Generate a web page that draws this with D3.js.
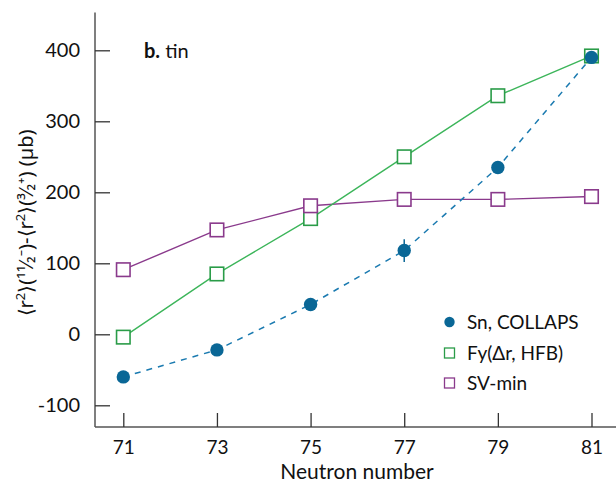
<!DOCTYPE html>
<html>
<head>
<meta charset="utf-8">
<script src="https://cdn.jsdelivr.net/npm/d3@7"></script>
<style>
  html, body { margin: 0; padding: 0; background: #fff; }
  svg { display: block; font-family: Lato, "Noto Sans", "DejaVu Sans", sans-serif; }
</style>
</head>
<body>
<svg id="chart" width="616" height="485"></svg>
<script>
// Neutron numbers of the odd tin isotopes
const neutrons = [71, 73, 75, 77, 79, 81];
// Isomer shift difference <r2>(11/2-) - <r2>(3/2+) in microbarn
const collaps = [-60, -22, 42, 118, 235, 390];
const collapsErr = [0, 0, 0, 16, 0, 0];
const fyHfb = [-4, 85, 163, 250, 336, 392];
const svMin = [91, 147, 181, 190, 190, 194];
const yTicks = [-100, 0, 100, 200, 300, 400];
const xTicks = [71, 73, 75, 77, 79, 81];
const legendLabels = ["Sn, COLLAPS", "Fy(\u0394r, HFB)", "SV-min"];

const colBlue = "#0a6796";
const colGreen = "#3cb55a";
const colGreenDark = "#2a9c48";
const colPurple = "#8a3a8c";
const axisCol = "#555";
const textFont = "Lato, 'Noto Sans', sans-serif";

const svg = d3.select("#chart");

const x = d3.scaleLinear().domain([71, 81]).range([123.3, 591.5]);
const y = d3.scaleLinear().domain([0, 400]).range([334.3, 50.3]);

const axisX0 = 95, axisY0 = 427;

// axes lines
svg.append("line").attr("x1", axisX0).attr("x2", axisX0).attr("y1", 12.5).attr("y2", axisY0)
  .attr("stroke", axisCol).attr("stroke-width", 1.5);
svg.append("line").attr("x1", axisX0).attr("x2", 616).attr("y1", axisY0).attr("y2", axisY0)
  .attr("stroke", axisCol).attr("stroke-width", 1.5);

// y axis with inward ticks
const gy = svg.append("g").attr("transform", `translate(${axisX0},0)`)
  .call(d3.axisLeft(y).tickValues(yTicks).tickSizeInner(-15).tickSizeOuter(0).tickPadding(15)
    .tickFormat(d => d < 0 ? "-" + Math.abs(d) : String(d)));
gy.select(".domain").remove();
gy.selectAll(".tick line").attr("stroke", "#333").attr("stroke-width", 1.3);
gy.selectAll(".tick text").attr("fill", "#111").style("font-size", "20px")
  .style("font-family", textFont);

// x axis with inward ticks
const gx = svg.append("g").attr("transform", `translate(0,${axisY0})`)
  .call(d3.axisBottom(x).tickValues(xTicks).tickSizeInner(-14).tickSizeOuter(0).tickPadding(13.5)
    .tickFormat(d3.format("d")));
gx.select(".domain").remove();
gx.selectAll(".tick line").attr("stroke", "#333").attr("stroke-width", 1.3);
gx.selectAll(".tick text").attr("fill", "#111").style("font-size", "19px")
  .style("font-family", textFont);

// axis titles
svg.append("text").attr("x", 357).attr("y", 479).attr("text-anchor", "middle")
  .attr("fill", "#111").style("font-size", "21px").style("font-family", textFont)
  .text("Neutron number");

const yl = svg.append("text").attr("transform", "translate(33,223) rotate(-90)")
  .attr("text-anchor", "middle").attr("fill", "#111").style("font-size", "20px")
  .style("font-family", "'Noto Sans', sans-serif");
yl.append("tspan").text("\u27E8r");
yl.append("tspan").attr("dy", -8).style("font-size", "13px").text("2");
yl.append("tspan").attr("dy", 8).text("\u27E9(");
yl.append("tspan").style("font-size", "19px").text("\u00B9\u00B9\u2044\u2082");
yl.append("tspan").style("font-size", "19px").text("\u207B");
yl.append("tspan").text(")-\u27E8r");
yl.append("tspan").attr("dy", -8).style("font-size", "13px").text("2");
yl.append("tspan").attr("dy", 8).text("\u27E9(");
yl.append("tspan").style("font-size", "19px").text("\u00B3\u2044\u2082\u207A");
yl.append("tspan").text(") (\u00B5b)");

// panel label
const title = svg.append("text").attr("x", 144).attr("y", 58).attr("fill", "#111")
  .style("font-size", "20px").style("font-family", textFont);
title.append("tspan").attr("font-weight", "bold").text("b.");
title.append("tspan").text(" tin");

const pts = arr => neutrons.map((n, i) => [x(n), y(arr[i])]);
const line = d3.line();
const sq = 13.5;

// SV-min
svg.append("path").attr("d", line(pts(svMin))).attr("fill", "none")
  .attr("stroke", colPurple).attr("stroke-width", 1.4);
// Fy(dr, HFB)
svg.append("path").attr("d", line(pts(fyHfb))).attr("fill", "none")
  .attr("stroke", colGreen).attr("stroke-width", 1.4);

svg.append("g").selectAll("rect").data(neutrons).join("rect")
  .attr("x", (d, i) => x(d) - sq / 2).attr("y", (d, i) => y(fyHfb[i]) - sq / 2)
  .attr("width", sq).attr("height", sq)
  .attr("fill", "#fff").attr("stroke", colGreenDark).attr("stroke-width", 1.6);

svg.append("g").selectAll("rect").data(neutrons).join("rect")
  .attr("x", (d, i) => x(d) - sq / 2).attr("y", (d, i) => y(svMin[i]) - sq / 2)
  .attr("width", sq).attr("height", sq)
  .attr("fill", "#fff").attr("stroke", colPurple).attr("stroke-width", 1.6);

// COLLAPS measurement
svg.append("path").attr("d", line(pts(collaps))).attr("fill", "none")
  .attr("stroke", "#1a7ab0").attr("stroke-width", 1.5).attr("stroke-dasharray", "6,6");

const errIdx = neutrons.map((d, i) => i).filter(i => collapsErr[i] > 0);
svg.append("g").selectAll("line").data(errIdx).join("line")
  .attr("x1", i => x(neutrons[i])).attr("x2", i => x(neutrons[i]))
  .attr("y1", i => y(collaps[i] + collapsErr[i]))
  .attr("y2", i => y(collaps[i] - collapsErr[i]))
  .attr("stroke", colBlue).attr("stroke-width", 1.5);

svg.append("g").selectAll("circle").data(neutrons).join("circle")
  .attr("cx", d => x(d)).attr("cy", (d, i) => y(collaps[i])).attr("r", 6.7)
  .attr("fill", colBlue);

// legend
const lg = svg.append("g");
const lgY = [322, 353, 383];
lg.append("circle").attr("cx", 449.5).attr("cy", lgY[0]).attr("r", 5.2).attr("fill", colBlue);
lg.append("rect").attr("x", 444.5).attr("y", lgY[1] - 5).attr("width", 10).attr("height", 10)
  .attr("fill", "#fff").attr("stroke", colGreenDark).attr("stroke-width", 1.3);
lg.append("rect").attr("x", 444.5).attr("y", lgY[2] - 5).attr("width", 10).attr("height", 10)
  .attr("fill", "#fff").attr("stroke", colPurple).attr("stroke-width", 1.3);
lg.selectAll("text").data(legendLabels).join("text")
  .attr("x", 467).attr("y", (d, i) => lgY[i]).attr("dy", "0.36em")
  .attr("fill", "#111").style("font-size", "19px").style("font-family", textFont)
  .text(d => d);
</script>
</body>
</html>
